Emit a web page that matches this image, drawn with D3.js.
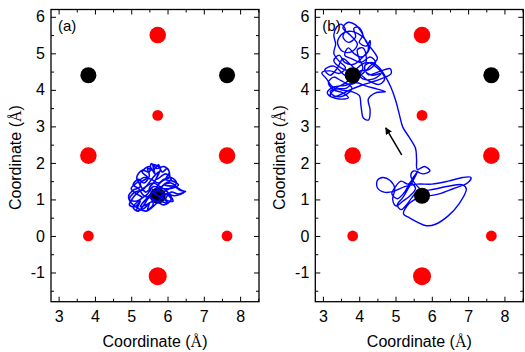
<!DOCTYPE html>
<html>
<head>
<meta charset="utf-8">
<script src="https://cdn.jsdelivr.net/npm/d3@7"></script>
<style>
  body { margin: 0; background: #fff; }
  text { font-family: "Liberation Sans", Arial, sans-serif; fill: #000; }
</style>
</head>
<body>
<svg id="chart" width="525" height="352"></svg>
<script>
// lattice sites (Å)
const siteX = [3.82, 7.64, 5.73, 5.73, 3.82, 7.64, 5.73, 5.73, 3.82, 7.64];
const siteY = [4.4, 4.4, 1.1, 5.5, 2.2, 2.2, -1.1, 3.3, 0, 0];
const siteType = ['black', 'black', 'black', 'redL', 'redL', 'redL', 'redXL', 'redS', 'redS', 'redS'];

const xTicks = [3, 4, 5, 6, 7, 8];
const yTicks = [-1, 0, 1, 2, 3, 4, 5, 6];
const xMinor = [3.5, 4.5, 5.5, 6.5, 7.5, 8.5];
const yMinor = [-1.5, -0.5, 0.5, 1.5, 2.5, 3.5, 4.5, 5.5];

const panelLabels = ['(a)', '(b)'];

// trajectory (a): stays near the centre site
const trajA = [
  [5.7,1.1],[5.55,1.3],[5.4,1.2],[5.25,1.45],[5.45,1.6],[5.3,1.75],[5.5,1.9],[5.65,1.7],[5.6,1.95],[5.8,1.85],
  [5.7,1.55],[5.95,1.7],[6.1,1.55],[5.9,1.4],[6.2,1.35],[6.35,1.25],[6.5,1.22],[6.3,1.15],[6.1,1.2],[5.95,1.0],
  [6.15,0.95],[6.0,1.2],[5.8,1.35],[5.6,1.45],[5.4,1.35],[5.2,1.2],[5.05,1.05],[4.95,0.85],[5.1,0.8],[5.25,0.95],
  [5.15,0.7],[5.35,0.75],[5.5,0.9],[5.45,0.72],[5.6,0.85],[5.55,1.05],[5.35,1.1],[5.2,1.3],[5.05,1.4],[5.2,1.55],
  [5.35,1.45],[5.5,1.65],[5.45,1.85],[5.6,1.8],[5.75,1.95],[5.85,1.75],[6.0,1.85],[6.05,1.6],[5.85,1.5],[5.7,1.3],
  [5.85,1.2],[6.05,1.3],[6.25,1.45],[6.1,1.6],[5.9,1.55],[5.75,1.45],[5.55,1.55],[5.35,1.6],[5.15,1.45],[5.0,1.3],
  [5.15,1.15],[5.3,1.05],[5.1,0.95],[4.95,1.0],[5.1,1.2],[5.3,1.25],[5.45,1.4],[5.6,1.6],[5.75,1.75],[5.65,1.5],
  [5.5,1.3],[5.65,1.15],[5.85,1.05],[6.0,0.9],[5.8,0.95],[5.6,0.95],[5.4,0.85],[5.25,0.8],[5.4,1.0],[5.6,1.2],
  [5.75,1.25],[5.9,1.4],[6.1,1.45],[6.3,1.3],[6.45,1.2],[6.2,1.1],[5.95,1.15],[5.8,1.0],[5.6,0.8],[5.4,0.68],
  [5.2,0.75],[5.0,0.9],[4.93,1.1],[5.05,1.25],[5.25,1.35],[5.15,1.6],[5.3,1.8],[5.5,1.75],[5.55,1.98],[5.7,1.85],
  [5.9,1.9],[6.05,1.75],[5.95,1.55],[6.15,1.5],[6.3,1.4],[6.1,1.3],[5.85,1.3],[5.6,1.35],[5.45,1.15],[5.25,1.0],
  [5.05,0.78],[5.2,0.68],[5.35,0.85],[5.5,1.05],[5.7,0.95],[5.9,0.85],[6.1,1.0],[5.95,1.15],[5.75,1.05]
];

// trajectory (b): hops from the lower site to the upper-left site
const trajB = [
  [5.75,1.05],[5.6,1.2],[5.45,1.05],[5.3,0.85],[5.15,0.72],[5.05,0.85],[5.2,1.05],[5.35,1.3],[5.5,1.55],[5.62,1.78],
  [5.5,1.62],[5.35,1.42],[5.15,1.5],[5.0,1.35],[4.9,1.15],[5.05,1.02],[5.25,1.2],[5.42,1.45],[5.55,1.3],[5.4,1.1],
  [5.2,0.95],[5.02,0.82],[4.92,1.0],[4.98,1.3],[4.85,1.52],[4.65,1.6],[4.5,1.52],[4.5,1.32],[4.68,1.2],[4.95,1.22],
  [5.25,1.35],[5.6,1.42],[6.0,1.42],[6.45,1.5],[6.85,1.6],[7.08,1.6],[6.98,1.45],[6.6,1.3],[6.2,1.15],[5.85,1.08],
  [5.5,0.98],[5.3,0.8],[5.22,0.6],[5.38,0.5],[5.6,0.38],[5.85,0.28],[6.1,0.32],[6.45,0.55],[6.75,0.88],[6.95,1.28],
  [6.85,1.4],[6.45,1.36],[6.05,1.28],[5.75,1.25],[5.55,1.42],[5.42,1.65],[5.5,1.78],[5.75,1.7],[5.95,1.78],[5.8,1.9],
  [5.6,1.82],[5.58,2.1],[5.55,2.4],[5.38,2.7],[5.2,2.98],[5.1,3.35],[5.0,3.72],[4.87,4.08],[4.73,4.35],[4.56,4.6],
  [4.35,4.75],[4.15,4.65],[4.25,4.42],[4.55,4.5],[4.85,4.58],[4.88,4.45],[4.6,4.3],[4.3,4.2],[4.05,4.12],[3.75,4.0],
  [3.5,3.88],[3.25,3.8],[3.12,3.92],[3.3,4.08],[3.6,4.12],[3.9,4.2],[4.2,4.1],[4.5,4.02],[4.72,3.95],[4.45,3.92],
  [4.25,3.75],[4.3,3.45],[4.26,3.18],[4.12,3.22],[4.05,3.55],[4.0,3.85],[3.8,3.95],[3.5,4.0],[3.25,4.1],[3.1,4.3],
  [2.97,4.47],[3.2,4.52],[3.45,4.45],[3.62,4.6],[3.45,4.78],[3.3,5.0],[3.35,5.25],[3.3,5.5],[3.38,5.72],[3.5,5.8],
  [3.62,5.65],[3.55,5.45],[3.7,5.3],[3.9,5.45],[3.85,5.68],[3.98,5.72],[4.1,5.5],[4.0,5.3],[4.2,5.2],[4.3,5.35],
  [4.25,5.05],[4.05,4.9],[3.85,5.0],[3.7,5.15],[3.6,4.95],[3.8,4.85],[4.05,4.75],[4.3,4.9],[4.45,4.75],[4.25,4.55],
  [4.0,4.5],[3.95,4.25],[3.75,4.15],[3.5,4.25],[3.3,4.35],[3.15,4.2],[3.3,4.0],[3.55,3.92],[3.7,3.78],[3.45,3.75],
  [3.2,3.85],[3.35,4.02],[3.65,4.05],[3.95,4.35],[4.1,4.6],[4.0,4.85],[3.95,5.1],[4.1,5.15],[4.2,4.85],[4.15,4.55],
  [4.35,4.4],[4.6,4.45],[4.4,4.3],[4.1,4.3],[3.9,4.55],[3.75,4.7],[3.55,4.85],[3.4,4.6],[3.2,4.4],[3.05,4.55],
  [3.3,4.65],[3.6,4.4],[3.85,4.3],[4.1,4.45],[4.3,4.65],[4.5,4.85],[4.4,5.05],[4.2,5.3],[4.05,5.6],[3.9,5.78],
  [3.7,5.85],[3.55,5.7],[3.75,5.5],[3.95,5.25],[3.8,5.05],[3.55,5.05],[3.4,5.3],[3.55,5.55],[3.8,5.6],[4.15,5.4],
  [4.25,5.1],[4.1,4.9],[3.85,4.7],[3.6,4.75],[3.45,4.95],[3.3,4.8],[3.5,4.6],[3.75,4.5],[4.05,4.4],[4.25,4.25],
  [4.55,4.15],[4.7,4.3],[4.5,4.6],[4.2,4.75],[3.95,4.6],[3.7,4.25],[3.45,4.1],[3.2,3.95],[3.35,3.82],[3.6,3.85],
  [3.8,4.05],[3.6,4.2]
];

// direction arrow in (b)
const arrowFrom = [5.17, 2.22];
const arrowTo = [4.73, 2.96];

const svg = d3.select('#chart');

const xDomain = [2.79, 8.52];
const yDomain = [-1.8, 6.2];
const plotTop = 9.5, plotBottom = 301.7, plotW = 208;
const panelLeft = [51, 315.3];

const radius = { black: 8, redL: 8.3, redXL: 9, redS: 5.4 };
const fill = { black: '#000', redL: '#ff0000', redXL: '#ff0000', redS: '#ff0000' };

svg.append('defs').append('marker')
  .attr('id', 'arrowhead')
  .attr('viewBox', '0 0 10 10')
  .attr('refX', 9).attr('refY', 5)
  .attr('markerWidth', 7).attr('markerHeight', 7)
  .attr('markerUnits', 'userSpaceOnUse')
  .attr('orient', 'auto')
  .append('path').attr('d', 'M0,0 L10,5 L0,10 z').attr('fill', '#000');

[trajA, trajB].forEach((traj, p) => {
  const left = panelLeft[p];
  const x = d3.scaleLinear().domain(xDomain).range([left, left + plotW]);
  const y = d3.scaleLinear().domain(yDomain).range([plotBottom, plotTop]);
  const g = svg.append('g');

  const line = d3.line()
    .x(d => x(d[0]))
    .y(d => y(d[1]))
    .curve(d3.curveCatmullRom.alpha(0.5));

  const drawTraj = () => g.append('path')
    .datum(traj)
    .attr('fill', 'none')
    .attr('stroke', '#0000ff')
    .attr('stroke-width', p === 0 ? 1.6 : 1.4)
    .attr('stroke-linejoin', 'round')
    .attr('d', line);

  if (p === 1) drawTraj();

  g.selectAll('circle.site')
    .data(siteX.map((v, i) => ({ x: v, y: siteY[i], t: siteType[i] })))
    .enter().append('circle')
    .attr('class', 'site')
    .attr('cx', d => x(d.x))
    .attr('cy', d => y(d.y))
    .attr('r', d => radius[d.t])
    .attr('fill', d => fill[d.t]);

  if (p === 0) drawTraj();

  if (p === 1) {
    g.append('line')
      .attr('x1', x(arrowFrom[0])).attr('y1', y(arrowFrom[1]))
      .attr('x2', x(arrowTo[0])).attr('y2', y(arrowTo[1]))
      .attr('stroke', '#000')
      .attr('stroke-width', 1.5)
      .attr('marker-end', 'url(#arrowhead)');
  }

  // axes: ticks point inward on all four sides
  const fmt = d => String(d);
  const axisG = (axis, tx, ty) => {
    const a = g.append('g').attr('transform', `translate(${tx},${ty})`).call(axis);
    a.select('.domain').remove();
    a.selectAll('line').attr('stroke', '#000').attr('stroke-width', 1);
    return a;
  };

  const bx = axisG(d3.axisBottom(x).tickValues(xTicks).tickFormat(fmt).tickSize(-5).tickPadding(6), 0, plotBottom);
  bx.selectAll('text').attr('font-size', 16).attr('dy', '0.9em');
  axisG(d3.axisBottom(x).tickValues(xMinor).tickFormat('').tickSize(-3), 0, plotBottom);
  axisG(d3.axisTop(x).tickValues(xTicks).tickFormat('').tickSize(-5), 0, plotTop);
  axisG(d3.axisTop(x).tickValues(xMinor).tickFormat('').tickSize(-3), 0, plotTop);

  const ly = axisG(d3.axisLeft(y).tickValues(yTicks).tickFormat(fmt).tickSize(-5).tickPadding(6), left, 0);
  ly.selectAll('text').attr('font-size', 16);
  axisG(d3.axisLeft(y).tickValues(yMinor).tickFormat('').tickSize(-3), left, 0);
  axisG(d3.axisRight(y).tickValues(yTicks).tickFormat('').tickSize(-5), left + plotW, 0);
  axisG(d3.axisRight(y).tickValues(yMinor).tickFormat('').tickSize(-3), left + plotW, 0);

  g.append('rect')
    .attr('x', left).attr('y', plotTop)
    .attr('width', plotW).attr('height', plotBottom - plotTop)
    .attr('fill', 'none')
    .attr('stroke', '#000')
    .attr('stroke-width', 1.3);

  g.append('text')
    .attr('x', left + 7).attr('y', plotTop + 21)
    .attr('font-size', 15)
    .text(panelLabels[p]);

  const xt = g.append('text')
    .attr('x', left + plotW / 2).attr('y', 347)
    .attr('text-anchor', 'middle')
    .attr('font-size', 16);
  xt.append('tspan').text('Coordinate (');
  xt.append('tspan').attr('font-family', '"Liberation Serif", serif').text('Å');
  xt.append('tspan').text(')');

  const yt = g.append('text')
    .attr('transform', `translate(${left - 30},${(plotTop + plotBottom) / 2 + 2}) rotate(-90)`)
    .attr('text-anchor', 'middle')
    .attr('font-size', 16);
  yt.append('tspan').text('Coordinate (');
  yt.append('tspan').attr('font-family', '"Liberation Serif", serif').text('Å');
  yt.append('tspan').text(')');
});
</script>
</body>
</html>
